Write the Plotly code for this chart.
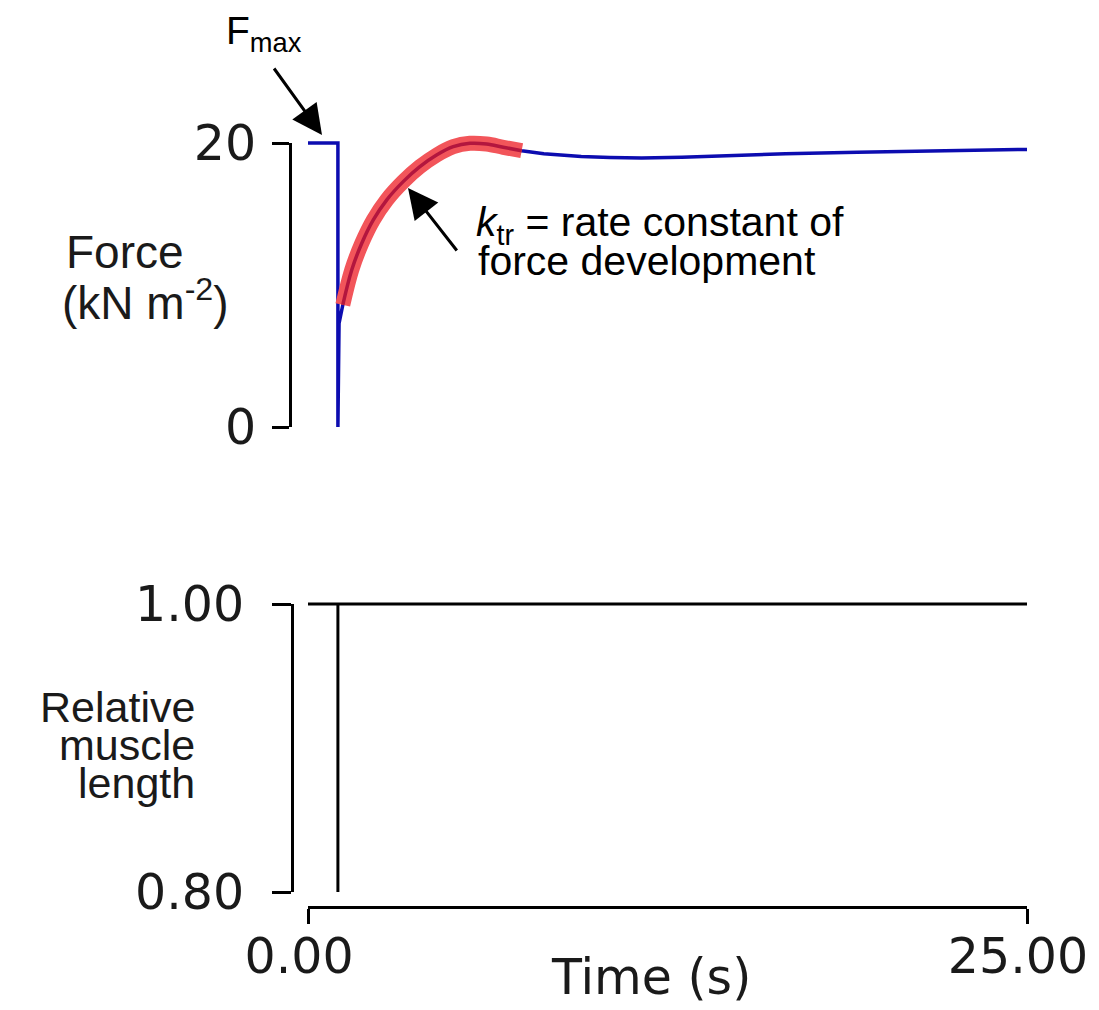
import plotly.graph_objects as go

# page has an 8 px body margin; figure is sized to fit the window
OFF = 8
W, H = 1099 - OFF, 1010 - OFF

# ---------------- data ----------------
# Force trace (blue), time in s, force in kN m^-2
force_time = [0.0, 1.04, 1.04, 1.08, 1.21, 1.52, 1.87, 2.27, 2.74, 3.31, 3.89, 4.47,
              5.05, 5.63, 6.21, 6.79, 7.43, 8.2, 9.5, 10.5, 11.6, 13.0, 14.2,
              16.6, 19.1, 21.6, 23.5, 25.0]
force_vals = [20.0, 20.0, 0.0, 7.3, 8.6, 11.06, 12.94, 14.58, 16.0, 17.28, 18.33, 19.15,
              19.74, 19.98, 19.93, 19.7, 19.46, 19.25, 19.05, 18.98, 18.95, 19.0, 19.1,
              19.25, 19.35, 19.42, 19.5, 19.55]

# ktr fit (red)
fit_time = [1.21, 1.52, 1.87, 2.27, 2.74, 3.31, 3.89, 4.47, 5.05, 5.63, 6.21, 6.79, 7.43]
fit_vals = [8.6, 11.06, 12.94, 14.58, 16.0, 17.28, 18.33, 19.15, 19.74, 19.98, 19.93, 19.7, 19.46]

# Relative muscle length (black)
len_time = [0.0, 1.04, 1.04, 1.04, 25.0]
len_vals = [1.0, 1.0, 0.80, 1.0, 1.0]

force_ticks = [0, 20]
force_ticktext = ["0", "20"]
len_ticks = [0.80, 1.00]
len_ticktext = ["0.80", "1.00"]
time_ticks = [0, 25]
time_ticktext = ["0.00", "25.00"]

# ---------------- layout geometry (window pixels) ----------------
X0_PX, X_SCALE = 308.0, 28.76          # t=0 at 308 px, px per second
F0_PX, F_SCALE = 427.0, 14.2           # force 0 at 427 px, px per unit
L0_PX, L_SCALE = 892.0, 1440.0         # length 0.8 at 892 px, px per unit

def fx(v):
    return (v - OFF) / W

def fy(v):
    return 1 - (v - OFF) / H

x_range = [-0.5, 25.5]
x_dom = [fx(X0_PX + x_range[0] * X_SCALE), fx(X0_PX + x_range[1] * X_SCALE)]

y_range = [-1.5, 22.0]
y_dom = [fy(F0_PX - y_range[0] * F_SCALE), fy(F0_PX - y_range[1] * F_SCALE)]

y2_range = [0.78, 1.02]
y2_dom = [fy(L0_PX - (y2_range[0] - 0.8) * L_SCALE), fy(L0_PX - (y2_range[1] - 0.8) * L_SCALE)]

BLUE = "#0c0cb0"
RED = "#f2555a"
DARKRED = "#b3163e"
FONT_TICK = "DejaVu Sans"
FONT_TXT = "Liberation Sans"
TICK_SIZE = 49

fig = go.Figure()

fig.add_trace(go.Scatter(x=force_time, y=force_vals, mode="lines",
                         line=dict(color=BLUE, width=3.5), xaxis="x", yaxis="y",
                         hoverinfo="skip", showlegend=False))
fig.add_trace(go.Scatter(x=fit_time, y=fit_vals, mode="lines",
                         line=dict(color=RED, width=15, shape="spline"), xaxis="x", yaxis="y",
                         hoverinfo="skip", showlegend=False))
fig.add_trace(go.Scatter(x=fit_time, y=fit_vals, mode="lines",
                         line=dict(color=DARKRED, width=3.5, shape="spline"), xaxis="x", yaxis="y",
                         hoverinfo="skip", showlegend=False))
fig.add_trace(go.Scatter(x=len_time, y=len_vals, mode="lines",
                         line=dict(color="black", width=3), xaxis="x", yaxis="y2",
                         hoverinfo="skip", showlegend=False))
# empty traces to show the visible (decoration) axes
fig.add_trace(go.Scatter(x=[], y=[], xaxis="x", yaxis="y3", showlegend=False))
fig.add_trace(go.Scatter(x=[], y=[], xaxis="x", yaxis="y4", showlegend=False))
fig.add_trace(go.Scatter(x=[], y=[], xaxis="x2", yaxis="y2", showlegend=False))

hidden = dict(visible=False, showgrid=False, zeroline=False, automargin=False)

fig.update_layout(
    template="none",
    width=W, height=H,
    margin=dict(l=0, r=0, t=0, b=0, autoexpand=False),
    paper_bgcolor="white", plot_bgcolor="rgba(0,0,0,0)",
    showlegend=False,
    xaxis=dict(domain=x_dom, range=x_range, anchor="y", **hidden),
    yaxis=dict(domain=y_dom, range=y_range, anchor="x", **hidden),
    yaxis2=dict(domain=y2_dom, range=y2_range, anchor="x", **hidden),
    yaxis3=dict(domain=[fy(F0_PX), fy(F0_PX - 20 * F_SCALE)], range=[0, 20],
                anchor="free", position=fx(290), side="left", automargin=False,
                showline=True, linecolor="black", linewidth=3,
                ticks="outside", ticklen=17, tickwidth=3, tickcolor="black",
                tickvals=force_ticks, ticktext=force_ticktext,
                tickfont=dict(family=FONT_TICK, size=TICK_SIZE, color="#1a1a1a"),
                ticklabelstandoff=6,
                showgrid=False, zeroline=False),
    yaxis4=dict(domain=[fy(L0_PX), fy(L0_PX - 0.2 * L_SCALE)], range=[0.8, 1.0],
                anchor="free", position=fx(292), side="left", automargin=False,
                showline=True, linecolor="black", linewidth=3,
                ticks="outside", ticklen=19, tickwidth=3, tickcolor="black",
                tickvals=len_ticks, ticktext=len_ticktext,
                tickfont=dict(family=FONT_TICK, size=TICK_SIZE, color="#1a1a1a"),
                ticklabelstandoff=18,
                showgrid=False, zeroline=False),
    xaxis2=dict(domain=[fx(X0_PX), fx(X0_PX + 25 * X_SCALE)], range=[0, 25],
                anchor="free", position=fy(907), side="bottom", automargin=False,
                showline=True, linecolor="black", linewidth=3,
                ticks="outside", ticklen=15, tickwidth=3, tickcolor="black",
                tickvals=time_ticks, ticktext=time_ticktext,
                tickfont=dict(family=FONT_TICK, size=TICK_SIZE, color="#1a1a1a"),
                ticklabelstandoff=-10, ticklabelshift=-9,
                showgrid=False, zeroline=False),
)

ann = []
txt = dict(xref="paper", yref="paper", showarrow=False, borderpad=0, borderwidth=0)
# axis titles / labels
ann.append(dict(text="Force", x=fx(125), y=fy(252), xanchor="center", yanchor="middle",
                font=dict(family=FONT_TXT, size=46, color="#1a1a1a"), **txt))
ann.append(dict(text="(kN m<sup>-2</sup>)", x=fx(145), y=fy(329), xanchor="center", yanchor="bottom",
                font=dict(family=FONT_TXT, size=46, color="#1a1a1a"), **txt))
for line, yc in [("Relative", 707), ("muscle", 745), ("length", 783)]:
    ann.append(dict(text=line, x=fx(195), y=fy(yc), xanchor="right", yanchor="middle",
                    font=dict(family=FONT_TXT, size=43, color="#1a1a1a"), **txt))
ann.append(dict(text="Time (s)", x=fx(651), y=fy(977), xanchor="center", yanchor="middle",
                font=dict(family=FONT_TICK, size=49, color="#1a1a1a"), **txt))
ann.append(dict(text="F<sub>max</sub>", x=fx(226), y=fy(9), xanchor="left", yanchor="top",
                font=dict(family=FONT_TXT, size=39, color="black"), **txt))
ann.append(dict(text="<i>k</i><sub>tr</sub> = rate constant of", x=fx(476), y=fy(199),
                xanchor="left", yanchor="top",
                font=dict(family=FONT_TXT, size=41, color="black"), **txt))
ann.append(dict(text="force development", x=fx(478), y=fy(261),
                xanchor="left", yanchor="middle",
                font=dict(family=FONT_TXT, size=41, color="black"), **txt))
# arrows
ann.append(dict(x=(322 - X0_PX) / X_SCALE, y=(F0_PX - 135) / F_SCALE, xref="x", yref="y",
                text="", showarrow=True, ax=-49, ay=-68, arrowhead=2, arrowsize=2.0,
                arrowwidth=3, arrowcolor="black"))
ann.append(dict(x=(408 - X0_PX) / X_SCALE, y=(F0_PX - 188) / F_SCALE, xref="x", yref="y",
                text="", showarrow=True, ax=50, ay=64, arrowhead=2, arrowsize=2.0,
                arrowwidth=3, arrowcolor="black"))
fig.update_layout(annotations=ann)

fig.write_html("out.html")
